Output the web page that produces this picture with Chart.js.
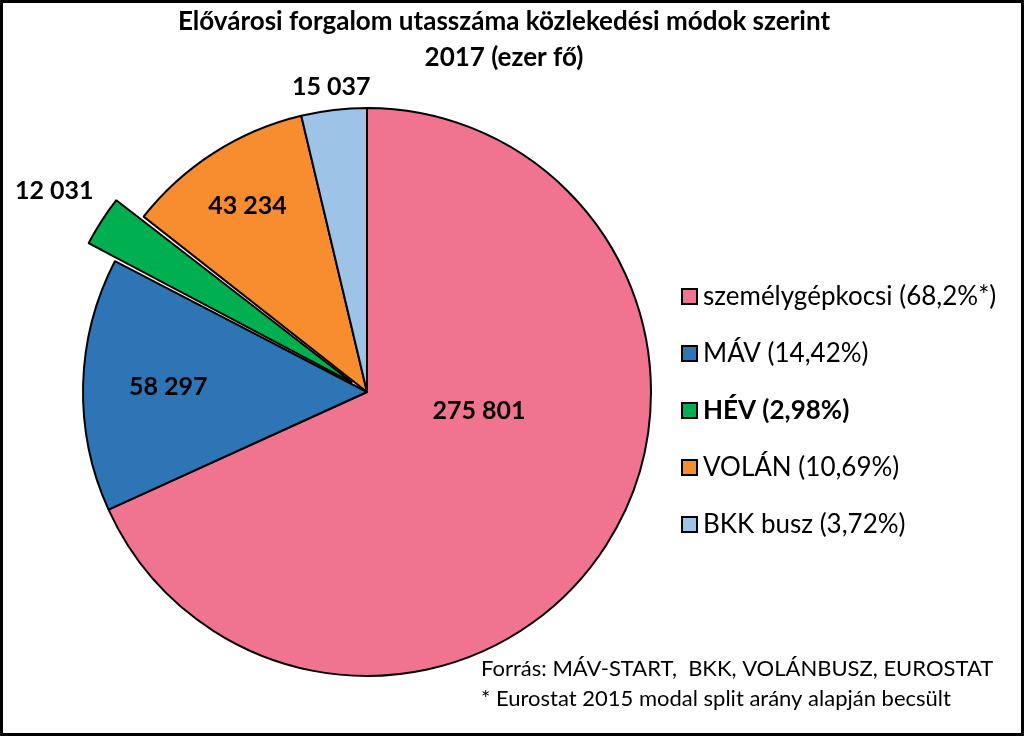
<!DOCTYPE html>
<html>
<head>
<meta charset="utf-8">
<script src="https://cdn.jsdelivr.net/npm/chart.js@4/dist/chart.umd.min.js"></script>
<style>
  html, body { margin: 0; padding: 0; background: #fff; }
  #frame { width: 1024px; height: 736px; box-sizing: border-box; border: 3px solid #000; background: #fff; }
  canvas { display: block; }
</style>
</head>
<body>
<div id="frame"><canvas id="chart" width="1018" height="730"></canvas></div>
<script>
const categories = ['személygépkocsi', 'MÁV', 'HÉV', 'VOLÁN', 'BKK busz'];
const passengers = [275801, 58297, 12031, 43234, 15037];
const shares = ['68,2%*', '14,42%', '2,98%', '10,69%', '3,72%'];
const colors = ['#F0748F', '#2E75B6', '#00B050', '#F88D2F', '#9DC3E6'];
const titleLines = ['Elővárosi forgalom utasszáma közlekedési módok szerint', '2017 (ezer fő)'];
const sourceLines = ['Forrás: MÁV-START,  BKK, VOLÁNBUSZ, EUROSTAT', '* Eurostat 2015 modal split arány alapján becsült'];

// label placement: fraction of radius and angle shift (deg) per slice
const labelRadius = [0.40, 0.70, 1.31, 0.78, 1.08];
const labelShift = [-23, 0, 0, 0, 0];
const boldLegend = [false, false, true, false, false];

const FONT = 'Lato, "Open Sans", sans-serif';

function fmt(v) {
  return String(v).replace(/\B(?=(\d{3})+(?!\d))/g, ' ');
}

const extras = {
  id: 'extras',
  afterDraw(chart) {
    const ctx = chart.ctx;
    ctx.save();
    ctx.fillStyle = '#000';
    ctx.textBaseline = 'middle';

    // title
    ctx.textAlign = 'center';
    ctx.font = 'bold 26px ' + FONT;
    ctx.fillText(titleLines[0], 501, 19);
    ctx.fillText(titleLines[1], 501, 55);

    // data labels
    ctx.font = 'bold 25px ' + FONT;
    const arcs = chart.getDatasetMeta(0).data;
    arcs.forEach(function (arc, i) {
      const mid = (arc.startAngle + arc.endAngle) / 2 + labelShift[i] * Math.PI / 180;
      const r = arc.outerRadius * labelRadius[i];
      ctx.fillText(fmt(passengers[i]), arc.x + Math.cos(mid) * r, arc.y + Math.sin(mid) * r);
    });

    // legend
    ctx.textAlign = 'left';
    for (let i = 0; i < categories.length; i++) {
      const y = 293 + i * 57;
      ctx.fillStyle = colors[i];
      ctx.fillRect(679, y - 7, 15, 15);
      ctx.strokeStyle = '#000';
      ctx.lineWidth = 2;
      ctx.strokeRect(679, y - 7, 15, 15);
      ctx.fillStyle = '#000';
      ctx.font = (boldLegend[i] ? 'bold ' : '') + '26px ' + FONT;
      ctx.fillText(categories[i] + ' (' + shares[i] + ')', 700, y + 1);
    }

    // source note
    ctx.font = '22px ' + FONT;
    ctx.fillText(sourceLines[0], 478, 666);
    ctx.fillText(sourceLines[1], 478, 696);
    ctx.restore();
  }
};

new Chart(document.getElementById('chart'), {
  type: 'pie',
  data: {
    labels: categories,
    datasets: [{
      data: passengers,
      backgroundColor: colors,
      borderColor: '#000',
      borderWidth: 2,
      offset: [0, 0, 70, 0, 0],
      hoverOffset: 0
    }]
  },
  options: {
    responsive: false,
    animation: false,
    layout: { padding: { left: 44, right: 334, top: 69, bottom: 21 } },
    plugins: {
      legend: { display: false },
      title: { display: false },
      tooltip: { enabled: false }
    }
  },
  plugins: [extras]
});
</script>
</body>
</html>
